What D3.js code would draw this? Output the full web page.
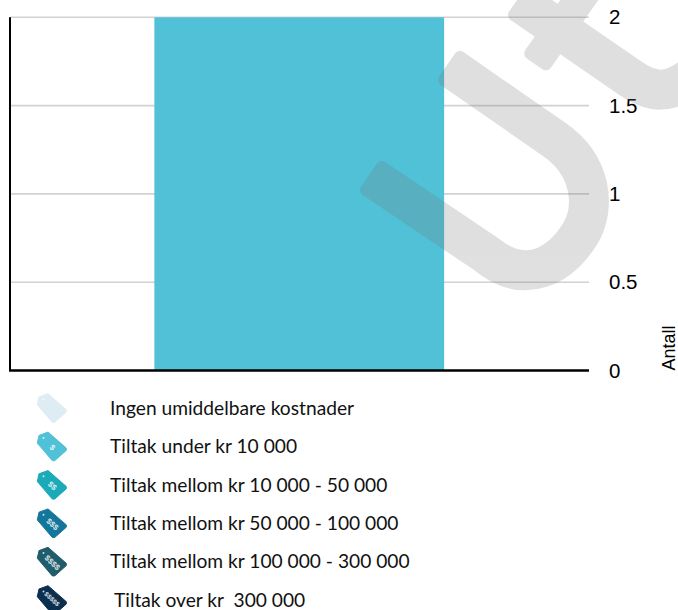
<!DOCTYPE html>
<html>
<head>
<meta charset="utf-8">
<script src="https://cdn.jsdelivr.net/npm/d3@7"></script>
<style>
  html, body { margin: 0; padding: 0; background: #fff; overflow: hidden; }
</style>
</head>
<body>
<div id="chart"></div>
<script>
const categories = ['Tiltak under kr 10 000'];
const values = [2];
const yTicks = [0, 0.5, 1, 1.5, 2];
const legendLabels = [
  'Ingen umiddelbare kostnader',
  'Tiltak under kr 10 000',
  'Tiltak mellom kr 10 000 - 50 000',
  'Tiltak mellom kr 50 000 - 100 000',
  'Tiltak mellom kr 100 000 - 300 000',
  'Tiltak over kr\u00a0 300 000'
];
const legendColors = ['#deedf3', '#50c1d6', '#1aaab8', '#13779b', '#1f5d6d', '#0a2f4f'];
const legendSigns = ['', '$', '$$', '$$$', '$$$$', '$$$$$'];

const width = 678;
const height = 610;
const margin = { top: 17.3, right: 89, bottom: 239.5, left: 10 };

const svg = d3.select('#chart').append('svg')
  .attr('width', width)
  .attr('height', height)
  .style('display', 'block');

const x = d3.scaleBand()
  .domain(categories)
  .range([margin.left - 0.5, width - margin.right])
  .padding(1 / 3);

const y = d3.scaleLinear()
  .domain([0, 2])
  .range([height - margin.bottom, margin.top]);

// Gridlines
svg.selectAll('.grid')
  .data(yTicks.slice(1))
  .enter()
  .append('line')
  .attr('class', 'grid')
  .attr('x1', margin.left)
  .attr('x2', width - margin.right)
  .attr('y1', d => y(d))
  .attr('y2', d => y(d))
  .attr('stroke', '#d2d2d2')
  .attr('stroke-width', 1.6);

// Bar
svg.selectAll('.bar')
  .data(values)
  .enter()
  .append('rect')
  .attr('class', 'bar')
  .attr('x', (d, i) => x(categories[i]))
  .attr('width', x.bandwidth())
  .attr('y', d => y(d))
  .attr('height', d => y(0) - y(d))
  .attr('fill', '#50c1d6');

// Right hand axis, labels only
const axis = svg.append('g')
  .attr('transform', `translate(${width - margin.right},0)`)
  .call(d3.axisRight(y).tickValues(yTicks).tickSize(0).tickPadding(20).tickFormat(d => d));
axis.select('.domain').remove();
axis.selectAll('text')
  .attr('fill', '#000')
  .attr('font-family', '"Liberation Sans", Arial, sans-serif')
  .attr('font-size', '20.5px');

// Black axis lines
svg.append('line')
  .attr('x1', margin.left).attr('x2', margin.left)
  .attr('y1', y(2)).attr('y2', y(0))
  .attr('stroke', '#000').attr('stroke-width', 2);
svg.append('line')
  .attr('x1', margin.left - 1).attr('x2', width - margin.right)
  .attr('y1', y(0)).attr('y2', y(0))
  .attr('stroke', '#000').attr('stroke-width', 2.4);

svg.append('text')
  .attr('transform', `translate(675,${y(0)}) rotate(-90)`)
  .attr('font-family', '"Liberation Sans", Arial, sans-serif')
  .attr('font-size', '18px')
  .attr('fill', '#000')
  .text('Antall');

// Watermark
const mark = svg.append('g')
  .attr('opacity', 0.223)
  .attr('fill', 'none')
  .attr('stroke', '#747474');
mark.append('path')
  .attr('stroke-width', 40)
  .attr('d', 'M452,68.5 L555,140 C592,166 596,208 580,234 C560,266 525,286 486,254 L374,178.5');
mark.append('path')
  .attr('stroke-width', 40)
  .attr('d', 'M522,3.5 L630,78 C652,93 668,95 695,75');
mark.append('path')
  .attr('stroke-width', 31)
  .attr('d', 'M538,59 L592,-18');

// Rounded corners on the stroke ends
function roundedEnd(cx, cy, nx, ny, half, r) {
  mark.append('line')
    .attr('x1', cx + nx * half).attr('y1', cy + ny * half)
    .attr('x2', cx - nx * half).attr('y2', cy - ny * half)
    .attr('stroke-width', r * 2)
    .attr('stroke-linecap', 'round');
}
roundedEnd(452, 68.5, 0.57, -0.82, 14, 6);
roundedEnd(374, 178.5, 0.57, -0.82, 14, 6);
roundedEnd(522, 3.5, 0.57, -0.82, 14, 6);
roundedEnd(538, 59, 0.82, 0.57, 9.5, 6);

// Legend
const tagPath = 'M-13,-11 L-4,-14.3 L14.3,1.7 L14.3,4 L2.7,14.3 L0.3,14.3 L-14.7,-3.3 Z';
const legendY = d3.scalePoint()
  .domain(legendLabels)
  .range([408, 600]);

const rows = svg.selectAll('.legend-row')
  .data(legendLabels)
  .enter()
  .append('g')
  .attr('class', 'legend-row')
  .attr('transform', d => `translate(0,${legendY(d)})`);

const tags = rows.append('g')
  .attr('transform', 'translate(52,0)');
tags.append('path')
  .attr('d', tagPath)
  .attr('stroke-linejoin', 'round')
  .attr('stroke-width', 1)
  .attr('stroke', (d, i) => legendColors[i])
  .attr('fill', (d, i) => legendColors[i]);
tags.append('circle')
  .attr('cx', -8.5)
  .attr('cy', -8.5)
  .attr('r', 1)
  .attr('fill', '#fff')
  .attr('opacity', 0.8);
tags.append('text')
  .attr('transform', (d, i) => i === 5 ? 'translate(0,-1) rotate(43)' : 'translate(0.5,1) rotate(43)')
  .attr('text-anchor', 'middle')
  .attr('dy', '0.35em')
  .attr('font-family', '"Liberation Sans", Arial, sans-serif')
  .attr('font-weight', 'bold')
  .attr('font-size', (d, i) => i === 5 ? '6.5px' : '8px')
  .attr('fill', '#fff')
  .attr('fill-opacity', 0.85)
  .text((d, i) => legendSigns[i]);

rows.append('text')
  .attr('x', (d, i) => i === 5 ? 114 : 110)
  .attr('dy', '0.35em')
  .attr('font-family', 'Lato, "Noto Sans", sans-serif')
  .attr('font-size', '19.2px')
  .attr('fill', '#111')
  .text(d => d);
</script>
</body>
</html>
